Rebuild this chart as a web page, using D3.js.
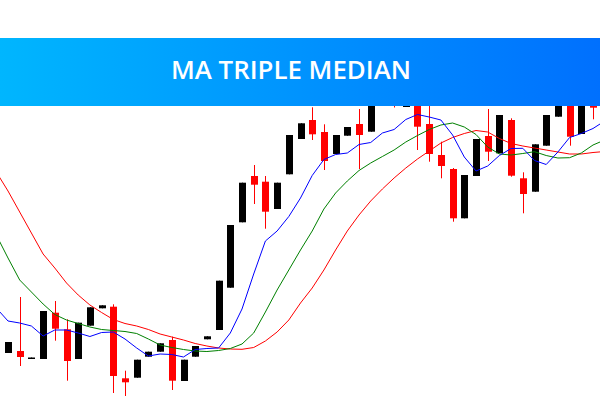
<!DOCTYPE html>
<html><head><meta charset="utf-8">
<script src="https://cdn.jsdelivr.net/npm/d3@7"></script>
<style>html,body{margin:0;padding:0;background:#fff;}svg{display:block;}</style>
</head><body>
<svg id="chart" width="600" height="400"></svg>
<script>
const title = "MA TRIPLE MEDIAN";
// bar index (-1 is the partly visible bar on the left edge)
const bars = d3.range(-1, 51);
const open  = [70,47,49,41,41,87.3,70.7,41,74.3,91.7,93.3,21.7,22.3,43.3,48.3,60,19,43.3,60.7,70,112.3,177.7,224,218.3,191,225.7,261,280,268,246,264.3,276,268.3,298,322,293,310,276,245,231,181.7,224,264,246.7,280,221.7,208.3,254.3,283.3,310,266,318];
const high  = [72,58,103,42.5,89,99,80.7,77.3,92.7,94.7,95.7,29.3,40.3,48.3,56.7,63.3,40.3,54,63.7,119.3,175,217.3,235,224,217.3,265,276.7,292.7,275.7,265,273,291,300,316,330,315,316,305,258.3,232,225,261,291,285,281.7,227.7,255.7,285,305,315,308,322];
const low   = [53,47,34,41,41,59.3,19.3,41,74.3,91.7,7,4,22.3,43.3,48.3,10,19,43.3,60.7,70,112.3,177.7,196,171.3,191,225.7,261,260,230,246,264.3,231,268.3,298,292.5,293,250,238.3,221.7,178.3,181.7,224,239,246.7,223.3,186.7,208.3,254.3,283.3,254.3,266,280.7];
const close = [53,58,43,42.5,89,71.3,39,77.3,92.7,94.7,24,17.7,40.3,48.3,56.7,19.3,40.3,54,63.7,119.3,175,217.3,215.3,188.3,217.3,265,276.7,265.7,239,265,273,265,300,316,300,315,273.3,246,234,181.7,225,261,248.3,285,224.3,206,255.7,285,305,263.3,308,292.3];
// moving averages, one value per bar from -1 to 51
const maBars = d3.range(-1, 52);
const maFast = [92,79,77,74,64,70,70,67,63.5,67.5,68,61,52,44,46,45.5,43,50.5,51.5,52,67,91,126,159,169,183.5,202,224.5,240.5,245.5,247,255.5,257.5,267,270.5,280.5,285.5,283,280,265,243,229,234,244.5,251.5,251.7,239.5,235.5,248,262.5,266.5,271.5,279];
const maMid  = [165,142,120,108,96,85.5,80,76.5,73,70.5,69.5,68.5,66.5,61,55,52.5,50.5,49,48.5,49.5,51.5,56,67,88,110,130,150,169,191,207,219,229.5,237,243.5,250,258,264.5,270.5,275,277,273,265.5,253,246,245,246.5,248.3,244.5,242,242.3,247,255,260];
const maSlow = [228,209,188,167,146,132,117,105,95,87.5,80.5,76.5,74,70.5,66,63,60,56.5,54,52,51,50.7,52.5,59,68,80,97,112,130,150,169,185,199,211,222,232,241,249,257,262.5,266.5,269.5,268,261.5,256.5,254,252,250,248,246,246,247.5,248.5];

const svg = d3.select("#chart");
const W = 600, H = 400;
const x = d3.scaleLinear().domain([0, 50]).range([8, 593]);
const y = d3.scaleLinear().domain([0, 400]).range([400, 0]);
const bodyW = 7;

const candles = bars.map((b, k) => ({b, o: open[k], h: high[k], l: low[k], c: close[k]}));
const col = d => d.c >= d.o ? "#000000" : "#ff0000";

const g = svg.append("g");
g.selectAll("line.wick").data(candles).join("line")
  .attr("class", "wick")
  .attr("x1", d => Math.round(x(d.b)) + 0.5).attr("x2", d => Math.round(x(d.b)) + 0.5)
  .attr("y1", d => y(d.h)).attr("y2", d => y(d.l))
  .attr("stroke", col).attr("stroke-width", 1);
g.selectAll("rect.body").data(candles).join("rect")
  .attr("class", "body")
  .attr("x", d => Math.round(x(d.b)) + 0.5 - bodyW / 2)
  .attr("y", d => y(Math.max(d.o, d.c)))
  .attr("width", bodyW)
  .attr("height", d => Math.max(1.5, Math.abs(y(d.o) - y(d.c))))
  .attr("fill", col);

const line = d3.line().x((d, k) => x(maBars[k])).y(d => y(d));
[[maSlow, "#ff0000"], [maMid, "#008000"], [maFast, "#0000ff"]].forEach(([s, c]) => {
  svg.append("path").attr("d", line(s)).attr("fill", "none")
    .attr("stroke", c).attr("stroke-width", 1);
});

// banner
const defs = svg.append("defs");
const grad = defs.append("linearGradient").attr("id", "bannerGrad")
  .attr("x1", "0%").attr("x2", "100%").attr("y1", "0%").attr("y2", "0%");
grad.append("stop").attr("offset", "0%").attr("stop-color", "#00b6fe");
grad.append("stop").attr("offset", "100%").attr("stop-color", "#0070fe");
svg.append("rect").attr("x", 0).attr("y", 38).attr("width", W).attr("height", 68)
  .attr("fill", "url(#bannerGrad)");
const t = svg.append("text").attr("x", 291).attr("y", 79)
  .attr("text-anchor", "middle")
  .attr("font-family", "'Open Sans', 'Noto Sans', sans-serif")
  .attr("font-weight", 600).attr("font-size", 26)
  .attr("fill", "#ffffff").text(title);
const tw = t.node().getComputedTextLength();
t.attr("font-size", 26 * 240 / tw);
</script>
</body></html>
